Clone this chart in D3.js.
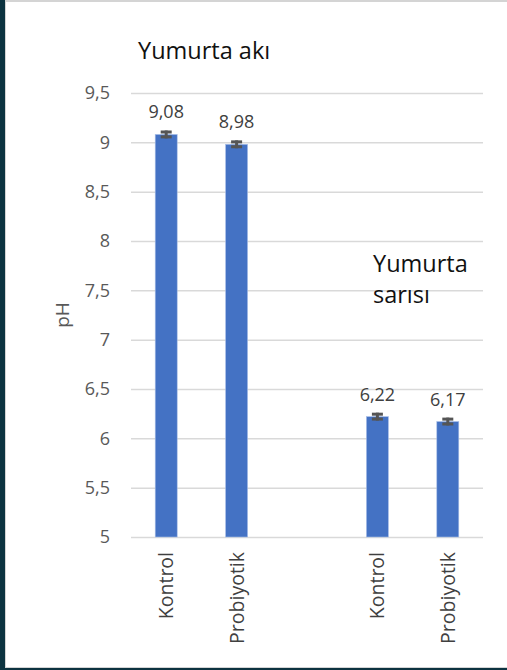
<!DOCTYPE html>
<html>
<head>
<meta charset="utf-8">
<title>pH</title>
<style>
  body { margin: 0; background: #fff; }
  svg text { font-family: "Open Sans", "Noto Sans", sans-serif; }
</style>
</head>
<body>
<main></main>
<script src="https://cdn.jsdelivr.net/npm/d3@7"></script>
<script>
    // veriler
    var categories = ["Kontrol", "Probiyotik", "", "Kontrol", "Probiyotik"];
    var values = [9.08, 8.98, null, 6.22, 6.17];
    var errors = [0.04, 0.04, null, 0.04, 0.04];
    var yTicks = [5, 5.5, 6, 6.5, 7, 7.5, 8, 8.5, 9, 9.5];

    var width = 507,
        height = 670;
    var svg = d3.select("main").append("svg")
        .attr("width", width).attr("height", height)
        .style("display", "block");

    // çerçeve
    svg.append("rect").attr("x", 0).attr("y", 0)
        .attr("width", width).attr("height", height).attr("fill", "#0c3340");
    svg.append("rect").attr("x", 5).attr("y", 0)
        .attr("width", width - 5).attr("height", 668).attr("fill", "#d4d4d4");
    svg.append("rect").attr("x", 6).attr("y", 2)
        .attr("width", width - 6).attr("height", 665).attr("fill", "#fff");

    var plotL = 131, plotR = 483, plotT = 93, plotB = 537;

    var x = d3.scaleBand()
        .domain(d3.range(categories.length))
        .range([plotL, plotR]);
    var barW = x.bandwidth() * 0.3125;

    var y = d3.scaleLinear()
        .domain([5, 9.5])
        .range([plotB, plotT]);

    // y ekseni ve ızgara
    var yAxis = svg.append("g")
        .attr("transform", "translate(" + plotL + ",0)")
        .call(d3.axisLeft(y)
            .tickValues(yTicks)
            .tickSize(-(plotR - plotL))
            .tickPadding(21)
            .tickFormat(function (d) { return String(d).replace(".", ","); }));
    yAxis.select(".domain").remove();
    yAxis.selectAll("line").attr("stroke", "#d9d9d9").attr("stroke-width", 1.5);
    yAxis.selectAll("text")
        .attr("fill", "#595959")
        .style("font-size", "18px");

    var data = values.map(function (v, i) {
        return { i: i, v: v, e: errors[i], c: categories[i] };
    }).filter(function (d) { return d.v !== null; });

    // çubuklar
    svg.selectAll(".bar").data(data).enter().append("rect")
        .attr("class", "bar")
        .attr("x", function (d) { return x(d.i) + x.bandwidth() / 2 - barW / 2; })
        .attr("y", function (d) { return y(d.v); })
        .attr("width", barW)
        .attr("height", function (d) { return y(5) - y(d.v); })
        .attr("fill", "#4472c4")
        .attr("stroke", "#a9bfe8")
        .attr("stroke-width", 0.6);

    // hata çubukları
    var err = svg.selectAll(".err").data(data).enter().append("g")
        .attr("class", "err")
        .attr("stroke", "#555")
        .attr("stroke-width", 3)
        .attr("transform", function (d) { return "translate(" + (x(d.i) + x.bandwidth() / 2) + ",0)"; });
    err.append("line")
        .attr("y1", function (d) { return y(d.v + d.e); })
        .attr("y2", function (d) { return y(d.v - d.e); });
    err.append("line").attr("x1", -5.5).attr("x2", 5.5)
        .attr("y1", function (d) { return y(d.v + d.e) + 1.5; })
        .attr("y2", function (d) { return y(d.v + d.e) + 1.5; });
    err.append("line").attr("x1", -5.5).attr("x2", 5.5)
        .attr("y1", function (d) { return y(d.v - d.e) - 1.5; })
        .attr("y2", function (d) { return y(d.v - d.e) - 1.5; });

    // değer etiketleri
    svg.selectAll(".lbl").data(data).enter().append("text")
        .attr("class", "lbl")
        .attr("x", function (d) { return x(d.i) + x.bandwidth() / 2; })
        .attr("y", function (d) { return y(d.v) - 16; })
        .attr("text-anchor", "middle")
        .attr("fill", "#404040")
        .style("font-size", "18px")
        .text(function (d) { return d.v.toFixed(2).replace(".", ","); });

    // kategori etiketleri
    svg.selectAll(".cat").data(data).enter().append("text")
        .attr("class", "cat")
        .attr("transform", function (d) {
            return "translate(" + (x(d.i) + x.bandwidth() / 2 + 7) + "," + (plotB + 15) + ") rotate(-90)";
        })
        .attr("text-anchor", "end")
        .attr("fill", "#404040")
        .style("font-size", "19.5px")
        .text(function (d) { return d.c; });

    // eksen başlığı
    svg.append("text")
        .attr("transform", "translate(69,315) rotate(-90)")
        .attr("text-anchor", "middle")
        .attr("fill", "#595959")
        .style("font-size", "19px")
        .text("pH");

    // grup başlıkları
    svg.append("text").attr("x", 138).attr("y", 59)
        .attr("fill", "#111").style("font-size", "23.5px")
        .text("Yumurta akı");
    svg.append("text").attr("x", 373).attr("y", 272)
        .attr("fill", "#111").style("font-size", "23.5px")
        .text("Yumurta");
    svg.append("text").attr("x", 373).attr("y", 303)
        .attr("fill", "#111").style("font-size", "23.5px")
        .text("sarısı");
</script>
</body>
</html>
